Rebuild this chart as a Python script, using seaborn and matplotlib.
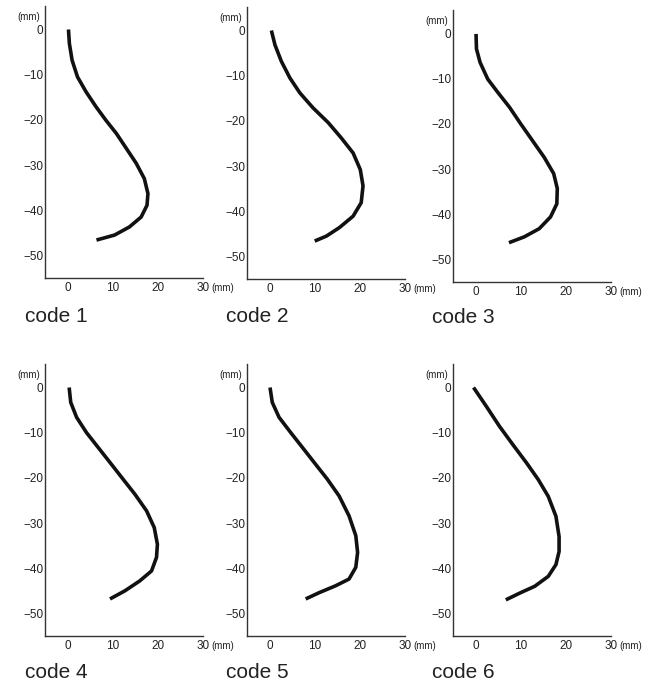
import numpy as np
import pandas as pd
import seaborn as sns
import matplotlib
matplotlib.use('Agg')
import matplotlib.pyplot as plt

# curve points (x = horizontal mm, y = depth mm)
code1_x = [0.2, 0.4, 1.0, 2.2, 4.1, 6.3, 8.5, 10.8, 13.0, 15.2, 17.0, 17.8, 17.6, 16.3, 13.7, 10.4, 6.4]
code1_y = [0, -3.1, -6.8, -10.5, -13.8, -17.1, -20.1, -23.0, -26.3, -29.6, -33.0, -36.3, -38.9, -41.5, -43.7, -45.5, -46.6]

code2_x = [0.4, 1.2, 2.6, 4.5, 6.7, 9.6, 13.0, 15.9, 18.5, 20.1, 20.7, 20.3, 18.5, 15.5, 12.6, 10.0]
code2_y = [0, -3.2, -6.8, -10.5, -13.8, -17.1, -20.4, -23.8, -27.1, -30.8, -34.4, -38.1, -41.1, -43.6, -45.5, -46.6]

code3_x = [0.1, 0.2, 1.0, 2.7, 4.9, 7.5, 10.0, 12.6, 15.2, 17.3, 18.1, 18.0, 16.6, 14.1, 10.8, 7.4]
code3_y = [-0.1, -3.4, -6.4, -10.1, -13.0, -16.3, -20.0, -23.7, -27.4, -31.0, -34.3, -37.7, -40.6, -43.2, -45.0, -46.3]

code4_x = [0.35, 0.7, 2.0, 4.2, 6.8, 9.4, 12.3, 14.9, 17.5, 19.2, 19.9, 19.7, 18.6, 16.0, 12.7, 9.4]
code4_y = [0, -3.3, -6.6, -10.0, -13.3, -16.6, -20.3, -23.6, -27.3, -31.0, -34.7, -37.6, -40.6, -42.8, -45.0, -46.8]

code5_x = [0.1, 0.6, 2.1, 4.7, 7.3, 10.2, 12.8, 15.4, 17.6, 19.1, 19.5, 19.1, 17.6, 14.6, 11.0, 8.0]
code5_y = [0, -3.3, -6.6, -10.0, -13.3, -17.0, -20.3, -24.0, -28.4, -32.8, -36.5, -39.8, -42.4, -43.9, -45.4, -46.8]

code6_x = [-0.45, 2.4, 5.3, 8.3, 11.3, 13.9, 16.1, 17.8, 18.5, 18.5, 17.8, 16.1, 13.1, 9.8, 6.7]
code6_y = [0, -4.2, -8.6, -12.7, -16.7, -20.4, -24.1, -28.5, -33.0, -36.3, -39.2, -41.8, -44.0, -45.5, -47.0]

labels = ['code 1', 'code 2', 'code 3', 'code 4', 'code 5', 'code 6']
xs = [code1_x, code2_x, code3_x, code4_x, code5_x, code6_x]
ys = [code1_y, code2_y, code3_y, code4_y, code5_y, code6_y]

xticks = [0, 10, 20, 30]
yticks = [0, -10, -20, -30, -40, -50]

sns.set_style('white')
plt.rcParams['font.family'] = ['Liberation Sans', 'DejaVu Sans']

fig = plt.figure(figsize=(6.6, 6.83), dpi=100)
W, H = 660, 683

# panel placement in pixels: (spine x, bottom y)
places = [(45, 278), (247, 279), (453, 282), (45, 636), (247, 636), (453, 636)]
label_pos = [(25, 316), (226, 316), (432, 318), (25, 673), (226, 673), (432, 673)]
pw, ph = 158, 272

for i in range(6):
    px, py = places[i]
    ax = fig.add_axes([px / W, (H - py) / H, pw / W, ph / H])
    df = pd.DataFrame({'x': xs[i], 'y': ys[i]})
    sns.lineplot(data=df, x='x', y='y', sort=False, estimator=None, ax=ax,
                 color='#111111', linewidth=2.6, solid_capstyle='butt',
                 solid_joinstyle='round')
    ax.set_xlim(-5, 30)
    ax.set_ylim(-55, 5.2)
    ax.set_xticks(xticks)
    ax.set_yticks(yticks)
    ax.set_xticklabels([str(t) for t in xticks])
    ax.set_yticklabels([str(t).replace('-', '\u2212') for t in yticks])
    ax.set_xlabel('')
    ax.set_ylabel('')
    for s in ['top', 'right']:
        ax.spines[s].set_visible(False)
    for s in ['left', 'bottom']:
        ax.spines[s].set_color('#333333')
        ax.spines[s].set_linewidth(1.0)
    ax.tick_params(axis='both', direction='in', length=4, width=1.0, colors='#333333',
                   labelsize=8.5, labelcolor='#222222', pad=2)
    ax.tick_params(axis='x', pad=3)
    ax.tick_params(axis='y', pad=1)
    ax.text(1.055, -0.035, '(mm)', transform=ax.transAxes, fontsize=7, color='#222222',
            ha='left', va='center')
    ax.text(-0.03, 0.94, '(mm)', transform=ax.transAxes, fontsize=7, color='#222222',
            ha='right', va='bottom')
    lx, ly = label_pos[i]
    fig.text(lx / W, (H - ly) / H, labels[i], fontsize=15, color='#222222',
             ha='left', va='center')

fig.savefig('out.png', dpi=100, facecolor='white')
